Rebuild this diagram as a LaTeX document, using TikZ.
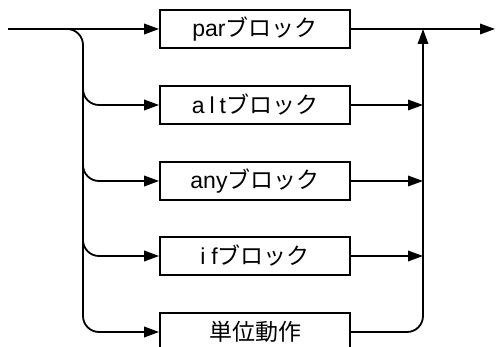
\documentclass[tikz,border=0pt]{standalone}
\usepackage{fontspec}
\setmainfont{Liberation Sans}
\newfontfamily\jpfont{Noto Sans CJK JP}
\usetikzlibrary{arrows.meta}
\newcommand\dlabelfont{\fontsize{23}{27}\selectfont}
\begin{document}
\begin{tikzpicture}[x=1pt,y=-1pt,line width=1.8pt,
  box/.style={draw,minimum width=190pt,minimum height=38pt,inner sep=0pt,font=\dlabelfont},
  arr/.style={-{Triangle[length=15pt,width=10.5pt]}},
  roundturn/.style={rounded corners=16pt}]
\useasboundingbox (0,0) rectangle (496,347);
\clip (0,0) rectangle (496,347);
\node[box] (b1) at (255,29) {par{\jpfont ブロック}};
\node[box] (b2) at (255,105) {a\hspace{5pt}l\hspace{5pt}t{\jpfont ブロック}};
\node[box] (b3) at (255,181) {any{\jpfont ブロック}};
\node[box] (b4) at (255,256) {i\hspace{6pt}f{\jpfont ブロック}};
\node[box] (b5) at (255,332) {{\jpfont 単位動作}};
\coordinate (start) at (8,29);
\coordinate (lv) at (83,29);
\coordinate (lvtop) at (83,50);
\coordinate (jn) at (423,29);
\coordinate (out) at (495,29);
\draw[arr] (start) -- (b1);
\draw[arr] (b1) -- (out);
\draw[arr,roundturn] (start) -| (b5.west -| lv) -- (b5.west);
\draw[arr,roundturn] (lvtop) |- (b2.west);
\draw[arr,roundturn] (lvtop) |- (b3.west);
\draw[arr,roundturn] (lvtop) |- (b4.west);
\draw[arr] (b2.east) -- (b2.east -| jn);
\draw[arr] (b3.east) -- (b3.east -| jn);
\draw[arr] (b4.east) -- (b4.east -| jn);
\draw[arr,roundturn] (b5.east) -| (jn);
\end{tikzpicture}
\end{document}
